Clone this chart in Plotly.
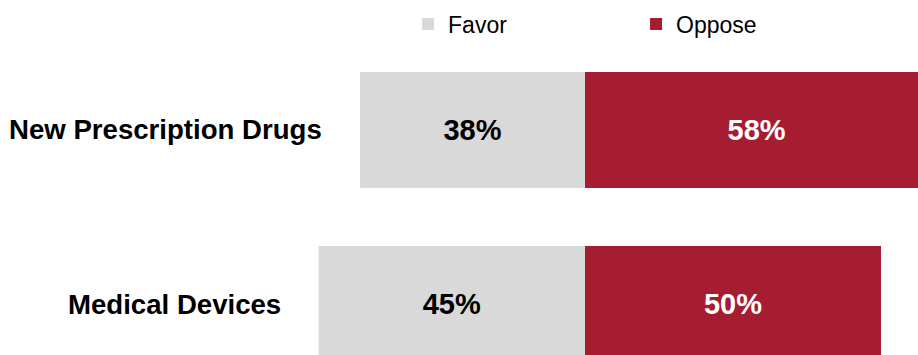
import plotly.graph_objects as go

categories = ["Medical Devices", "New Prescription Drugs"]
favor = [45, 38]
oppose = [50, 58]
favor_labels = ["45%", "38%"]
oppose_labels = ["50%", "58%"]

GREY = "#D9D9D9"
RED = "#A61C31"
FONT = "Liberation Sans, Arial, sans-serif"

fig = go.Figure()
fig.add_trace(go.Bar(
    y=categories, x=[-v for v in favor], orientation="h", name="Favor",
    marker=dict(color=GREY, line=dict(width=0)), width=0.667,
    text=favor_labels, textposition="inside", insidetextanchor="middle",
    textfont=dict(family=FONT, size=29, color="black", weight="bold"),
    constraintext="none", hoverinfo="skip",
))
fig.add_trace(go.Bar(
    y=categories, x=oppose, orientation="h", name="Oppose",
    marker=dict(color=RED, line=dict(width=0)), width=0.667,
    text=oppose_labels, textposition="inside", insidetextanchor="middle",
    textfont=dict(family=FONT, size=29, color="white", weight="bold"),
    constraintext="none", hoverinfo="skip",
))

for cat, f in zip(categories, favor):
    fig.add_annotation(
        x=-f, y=cat, xref="x", yref="y", text=cat, showarrow=False,
        xanchor="right", yanchor="middle", xshift=-36,
        font=dict(family=FONT, size=27.6, color="black", weight="bold"),
    )

fig.update_layout(
    width=918, height=355,
    margin=dict(l=0, r=0, t=0, b=0, autoexpand=False),
    barmode="relative",
    plot_bgcolor="white", paper_bgcolor="white",
    showlegend=True,
    legend=dict(
        orientation="h", x=0.4445, xanchor="left", y=0.993, yanchor="top",
        font=dict(family=FONT, size=23, color="black"),
        entrywidth=183, entrywidthmode="pixels",
        bgcolor="rgba(0,0,0,0)", traceorder="normal",
    ),
    xaxis=dict(range=[-98.82, 56.25], visible=False, fixedrange=True),
    yaxis=dict(range=[-0.293, 1.747], visible=False, type="category",
               fixedrange=True),
    bargap=0.333,
)

fig.write_html(
    "out.html",
    config={"displayModeBar": False},
    post_script="document.body.style.margin='0';",
)
